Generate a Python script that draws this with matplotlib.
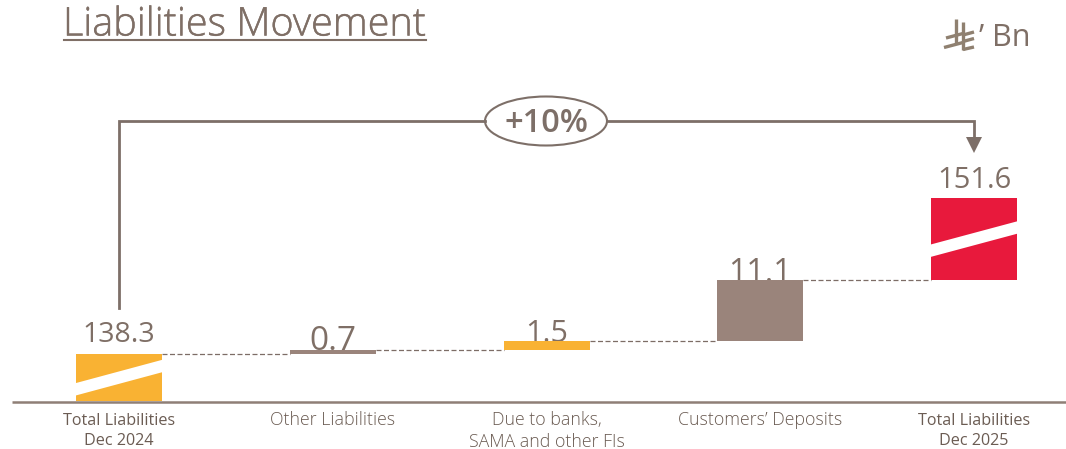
import numpy as np
import matplotlib; matplotlib.use("Agg")
import matplotlib.pyplot as plt
import matplotlib.patheffects as pe
from matplotlib.patches import Ellipse, Polygon

plt.rcParams['font.family'] = ['Open Sans', 'DejaVu Sans']

categories = ['Total Liabilities\nDec 2024', 'Other Liabilities',
              'Due to banks,\nSAMA and other FIs', 'Customers\u2019 Deposits',
              'Total Liabilities\nDec 2025']
start_total = 138.3
end_total = 151.6
deltas = [0.7, 1.5, 11.1]
labels = ['138.3', '0.7', '1.5', '11.1', '151.6']
change_label = '+10%'
unit_label = '\u2019 Bn'
title = 'Liabilities Movement'

TEXT = '#7f6f66'
LINE = '#7d6f68'
GOLD = '#f9b233'
BROWN = '#9a847b'
RED = '#e8193c'

W, H = 1066, 449
fig = plt.figure(figsize=(W/100, H/100), dpi=100, facecolor='white')

# broken axis: value scale runs 5.5 px per unit, base of the axis is 129.75
x0, dx = 119, 213.75
base_px, base_val, per_unit = 400.6, 129.75, 5.5
ax = fig.add_axes((0, 0, 1, 1), frameon=False)
ax.set_xlim(-x0/dx, (W-x0)/dx)
ax.set_ylim(base_val-(H-base_px)/per_unit, base_val+base_px/per_unit)
ax.set_xticks([]), ax.set_yticks([])

# overlay in pixels for the annotation bits
ov = fig.add_axes((0, 0, 1, 1), frameon=False)
ov.set_xlim(0, W), ov.set_ylim(H, 0)
ov.set_xticks([]), ov.set_yticks([])
ov.patch.set_alpha(0)

bar_w = 86/dx
end_stub = 15.0  # the closing bar floats above the last level

# waterfall levels
levels = [start_total]
for d in deltas:
    levels.append(levels[-1]+d)

ax.bar(0, start_total-base_val, bar_w, bottom=base_val, color=GOLD, zorder=2)
for i, d in enumerate(deltas):
    ax.bar(i+1, d, bar_w, bottom=levels[i], color=[BROWN, GOLD, BROWN][i], zorder=2)
ax.bar(4, end_stub, bar_w, bottom=end_total, color=RED, zorder=2)

# dashed connectors
for i, lv in enumerate(levels):
    ax.plot([i+bar_w/2, i+1-bar_w/2], [lv, lv], color='#7d6d66', lw=0.9,
            ls=(0, (4, 2)), zorder=1)

# white slashes on the total bars
for cx, yl, yr in [(119, 383.3, 360.2), (974, 244.7, 221.7)]:
    ov.add_patch(Polygon([(cx-44, yl), (cx+44, yr-0.6), (cx+44, yr+11.8), (cx-44, yl+12.4)],
                         color='white', lw=0, zorder=3))

# axis line
ov.plot([12, W], [402, 402], color='#8f7f76', lw=1.8, zorder=4, solid_capstyle='butt')

# value labels, the bars cover their lower edge like in the slide
label_y = [335, 342, 334, 273, 181]
label_size = [20.5, 24, 22, 23, 21]
for i, (s, y, fs) in enumerate(zip(labels, label_y, label_size)):
    ax.text(x0+dx*i, y, s, ha='center', va='center', fontsize=fs, color=TEXT,
            zorder=1.5, transform=ov.transData)

# category labels
for i, s in enumerate(categories):
    outer = i in (0, 4)
    ypos = 431 if s.count('\n') else 420
    ov.text(x0+dx*i, ypos, s, ha='center', va='center', linespacing=1.3,
            fontsize=11.6 if outer else 12.8, color='#6b5c53',
            fontweight='normal' if outer else 'light')

# bracket with arrow
ov.plot([119, 119, 485], [308, 121, 121], color=LINE, lw=2, solid_joinstyle='miter')
ov.plot([607, 974, 974], [121, 121, 138], color=LINE, lw=2, solid_joinstyle='miter')
ov.add_patch(Polygon([(966, 137), (982, 137), (974, 153)], color=LINE, lw=0))
ov.add_patch(Ellipse((546, 121), 122, 49, fc='white', ec=LINE, lw=1.5))
ov.text(546, 124, change_label, ha='center', va='center', fontsize=23.5,
        fontweight='semibold', color=LINE)

# title
ov.text(63, 25, title, ha='left', va='center', fontsize=28.5, color=TEXT, fontweight='light',
        path_effects=[pe.withStroke(linewidth=0.3, foreground=TEXT)])
ov.plot([64, 426], [39.5, 39.5], color=TEXT, lw=1.5)

# riyal sign drawn by hand, the fonts don't have it
SAR = '#8f8070'
for xs, ys in [([944, 963], [47.5, 42.5]), ([946, 963], [38, 33.5]),
               ([956, 956], [19, 43]), ([963, 963], [22, 50]),
               ([963, 974], [35, 32]), ([963, 974], [41.5, 38.5]), ([963, 974], [49.5, 47])]:
    ov.plot(xs, ys, color=SAR, lw=2.4, solid_capstyle='butt')
ov.text(979, 38, unit_label, ha='left', va='center', fontsize=22, color=TEXT)

fig.savefig('out.png', dpi=100)
